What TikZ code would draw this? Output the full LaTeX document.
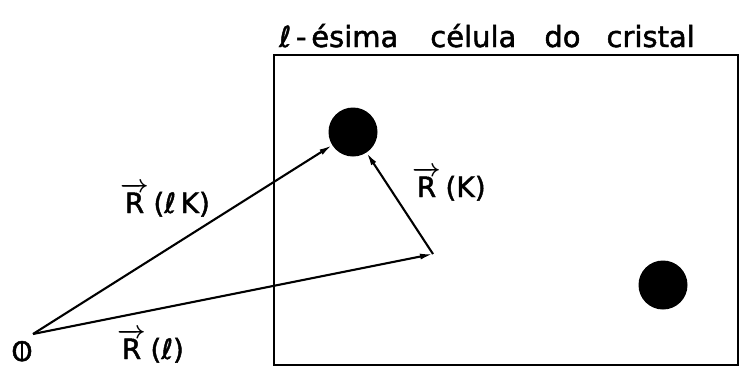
\documentclass[tikz,border=0pt]{standalone}
\usepackage{fontspec}
\setmainfont{DejaVu Sans}[FakeBold=1.6]
\usetikzlibrary{arrows.meta}
\usepackage{amsmath}
\newcommand\myvecR{$\boldmath\overrightarrow{\mbox{R}}$}
\begin{document}
\begin{tikzpicture}[x=1pt,y=-1pt,
  lbl/.style={inner sep=0pt,anchor=base west,font=\fontsize{28}{30}\selectfont},
  vecline/.style={line width=2.1pt,-{Latex[length=13pt,width=6pt]}},
  atom/.style={circle,fill=black,draw=none,minimum size=49pt,inner sep=0pt},
  cell/.style={line width=2.8pt}]
\useasboundingbox (0,0) rectangle (741,368);
\fill[white] (0,0) rectangle (741,368);
% crystal cell
\draw[cell] (274,55) rectangle (738,365);
\node[lbl,font=\fontsize{29}{30}\selectfont] (title) at (279,47) {ℓ\,-\,ésima\hspace{32pt}célula\hspace{28pt}do\hspace{26pt}cristal};
% atoms
\node[atom] (atomA) at (353,132) {};
\node[atom] (atomB) at (663,285) {};
% origin
\coordinate (O) at (33,334);
\node[inner sep=0pt,font=\fontsize{27}{28}\selectfont] (origsym) at (22,351) {\ooalign{O\cr\hidewidth\rule[0.05em]{2.2pt}{0.62em}\hidewidth\cr}};
\coordinate (C) at (433,254);
% vectors
\draw[vecline] (O) -- (C);
\draw[vecline] (O) -- (atomA);
\draw[vecline] (C) -- (atomA);
% labels
\node[lbl] (lRlK) at (120,213) {\myvecR\,(ℓ\,K)};
\node[lbl] (lRl) at (117,359) {\myvecR\,(ℓ)};
\node[lbl] (lRK) at (412,197) {\myvecR\,(K)};
\end{tikzpicture}
\end{document}
